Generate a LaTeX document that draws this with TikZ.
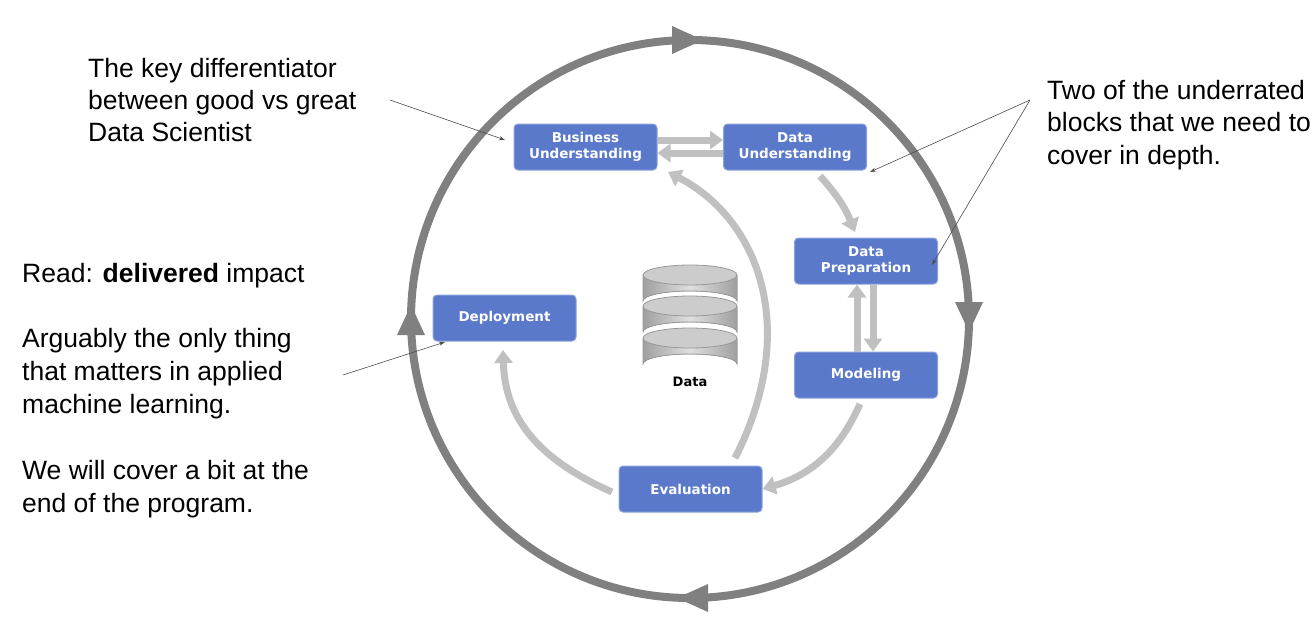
\documentclass[tikz,border=0pt]{standalone}
\usepackage{fontspec}
\setmainfont{Liberation Sans}
\newfontfamily\boxfont{DejaVu Sans}
\usetikzlibrary{arrows.meta,shapes.geometric}
\definecolor{boxblue}{RGB}{91,121,203}
\definecolor{ringgray}{RGB}{128,128,128}
\definecolor{flowgray}{RGB}{192,192,192}
\begin{document}
\begin{tikzpicture}[x=1pt,y=-1pt,
  blk/.style={draw=boxblue!70!white,line width=1pt,fill=boxblue,rounded corners=4pt,minimum width=143pt,minimum height=46pt,text=white,font=\boxfont\bfseries\fontsize{13.5}{16}\selectfont,align=center,inner sep=1pt},
  flow/.style={flowgray,line width=7pt,-{Triangle[length=13pt,width=18pt]}},
  rtip/.style={ringgray,fill=ringgray},
  txt/.style={anchor=base west,inner sep=0,font=\fontsize{26.5}{30}\selectfont},
  note/.style={black!70,line width=0.6pt,-{Stealth[length=6pt,width=4pt]}}]
\useasboundingbox (0,0) rectangle (1316,621);
% ring
\node[circle,draw=ringgray,line width=8pt,minimum size=558pt,inner sep=0] (ring) at (690,319) {};
\fill[rtip] (703,40) -- (672,26) -- (672,54) -- cycle;
\fill[rtip] (969,332) -- (955,302) -- (983,302) -- cycle;
\fill[rtip] (677,598) -- (708,584) -- (708,612) -- cycle;
\fill[rtip] (411,305) -- (397,335) -- (425,335) -- cycle;
% boxes
\node[blk] (bu) at (585.5,147) {Business\\Understanding};
\node[blk] (du) at (795,147) {Data\\Understanding};
\node[blk] (dp) at (866,261) {Data\\Preparation};
\node[blk] (mo) at (866,375) {Modeling};
\node[blk] (ev) at (690.5,489) {Evaluation};
\node[blk] (de) at (504.5,318) {Deployment};
% flows
\draw[flow] ([yshift=7pt]bu.east) -- ([yshift=7pt]du.west);
\draw[flow] ([yshift=-6pt]du.west) -- ([yshift=-6pt]bu.east);
\draw[flow] (820,176) to[bend left=10] (855,232);
\draw[flow] ([xshift=7pt]dp.south) -- ([xshift=7pt]mo.north);
\draw[flow] ([xshift=-9pt]mo.north) -- ([xshift=-9pt]dp.south);
\draw[flow] (860,404) to[bend left=25] (ev.east);
\draw[flow] (735,458) .. controls (800,330) and (760,220) .. (668,172);
\draw[flow] (612,492) .. controls (540,460) and (505,420) .. (503,350);
% database
\foreach \y/\n in {338/c3,306/c2,275/c1}{
  \fill[left color=gray!75,right color=gray!75,middle color=gray!25] (643,\y) -- (643,\y+26) arc[start angle=180,end angle=360,x radius=47,y radius=10] -- (737,\y) -- cycle;
  \draw[gray!80,line width=0.8pt] (643,\y) -- (643,\y+26) arc[start angle=180,end angle=360,x radius=47,y radius=10] -- (737,\y);
  \draw[gray!80,fill=gray!40,line width=0.8pt] (690,\y) ellipse[x radius=47,y radius=10];
  \coordinate (\n) at (690,\y);
}
\node[font=\boxfont\bfseries\fontsize{13}{15}\selectfont] (data) at (690,382) {Data};
% texts
\node[txt] (t1) at (88,77) {The key differentiator};
\node[txt] (t2) at (88,109) {between good vs great};
\node[txt] (t3) at (88,141) {Data Scientist};
\node[txt] (r1) at (1047,99) {Two of the underrated};
\node[txt] (r2) at (1047,131) {blocks that we need to};
\node[txt] (r3) at (1047,164) {cover in depth.};
\node[txt] (l1) at (22,282) {Read: \textbf{delivered} impact};
\node[txt] (l2) at (22,347) {Arguably the only thing};
\node[txt] (l3) at (22,380) {that matters in applied};
\node[txt] (l4) at (22,413) {machine learning.};
\node[txt] (l5) at (22,479) {We will cover a bit at the};
\node[txt] (l6) at (22,512) {end of the program.};
% annotation lines
\coordinate (a1) at (390,100);
\coordinate (a2) at (1030,100);
\coordinate (a3) at (343,375);
\draw[note] (a1) -- (505,140);
\draw[note] (a2) -- (870,172);
\draw[note] (a2) -- (932,265);
\draw[note] (a3) -- (445,342);
\end{tikzpicture}
\end{document}
